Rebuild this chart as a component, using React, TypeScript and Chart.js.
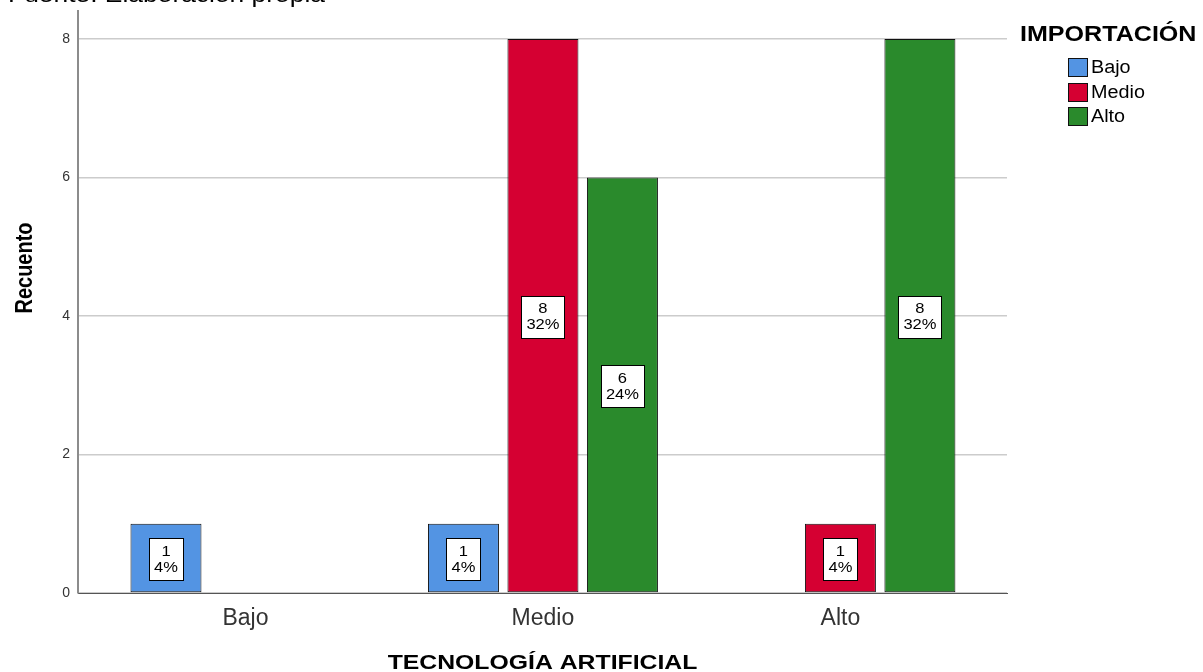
import React, { useEffect, useRef } from 'react';
import { Chart, registerables } from 'chart.js';

Chart.register(...registerables);

// ---------- data ----------
const categories = ['Bajo', 'Medio', 'Alto'];
const seriesNames = ['Bajo', 'Medio', 'Alto'];
const bajoCounts: (number | null)[] = [1, 1, null];
const medioCounts: (number | null)[] = [null, 8, 1];
const altoCounts: (number | null)[] = [null, 6, 8];
const seriesColors = ['#5394E3', '#D50032', '#2A8A2C'];
const yTickValues = [0, 2, 4, 6, 8];
const xTitle = 'TECNOLOGÍA ARTIFICIAL';
const yTitle = 'Recuento';
const legendTitle = 'IMPORTACIÓN';
const sourceNote = 'Fuente: Elaboración propia';

const seriesValues = [bajoCounts, medioCounts, altoCounts];
const totalCount = seriesValues.flat().reduce((a: number, v) => a + (v ?? 0), 0);

const FONT = '"Liberation Sans", Arial, Helvetica, sans-serif';
const S = 1.18; // horizontal stretch of the reference text

function drawStretched(
  ctx: CanvasRenderingContext2D,
  text: string,
  x: number,
  y: number,
  font: string,
  rotate = 0
) {
  ctx.save();
  ctx.translate(x, y);
  ctx.scale(S, 1);
  if (rotate) ctx.rotate(rotate);
  ctx.font = font;
  ctx.textAlign = 'center';
  ctx.textBaseline = 'middle';
  ctx.fillText(text, 0, 0);
  ctx.restore();
}

const barLabelPlugin = {
  id: 'barLabels',
  afterDatasetsDraw(chart: any) {
    const ctx: CanvasRenderingContext2D = chart.ctx;
    chart.data.datasets.forEach((ds: any, di: number) => {
      const meta = chart.getDatasetMeta(di);
      meta.data.forEach((bar: any, i: number) => {
        const v = ds.data[i].y;
        if (v == null) return;
        const lines = [String(v), Math.round((v / totalCount) * 100) + '%'];
        const font = `14px ${FONT}`;
        ctx.save();
        ctx.font = font;
        const w = Math.max(...lines.map((l) => ctx.measureText(l).width)) * S;
        const bw = Math.round(w + 10);
        const bh = 42;
        const cx = bar.x;
        const cy = (bar.y + bar.base) / 2;
        const left = Math.round(cx - bw / 2) + 0.5;
        const top = Math.round(cy - 20) + 0.5;
        ctx.fillStyle = '#ffffff';
        ctx.fillRect(left, top, bw, bh);
        ctx.strokeStyle = '#000000';
        ctx.lineWidth = 1;
        ctx.strokeRect(left, top, bw, bh);
        ctx.fillStyle = '#000000';
        drawStretched(ctx, lines[0], cx, cy - 6, font);
        drawStretched(ctx, lines[1], cx, cy + 10, font);
        ctx.restore();
      });
    });
  },
};

const titlesPlugin = {
  id: 'axisTitles',
  afterDraw(chart: any) {
    const ctx: CanvasRenderingContext2D = chart.ctx;
    const area = chart.chartArea;
    ctx.save();
    ctx.fillStyle = '#000000';
    drawStretched(ctx, xTitle, (area.left + area.right) / 2, 663, `bold 21px ${FONT}`);
    drawStretched(ctx, yTitle, 25, 268, `bold 20px ${FONT}`, -Math.PI / 2);
    ctx.restore();
  },
};

export default function App() {
  const canvasRef = useRef<HTMLCanvasElement | null>(null);

  useEffect(() => {
    if (!canvasRef.current) return;
    const datasets = seriesValues.map((vals, k) => ({
      label: seriesNames[k],
      data: vals.map((v, i) => ({ x: i, y: v })),
      backgroundColor: seriesColors[k],
      borderColor: '#111111',
      borderWidth: 1,
      borderSkipped: false,
      categoryPercentage: 0.8017,
      barPercentage: 0.893,
    }));

    const chart = new Chart(canvasRef.current, {
      type: 'bar',
      data: { datasets } as any,
      plugins: [barLabelPlugin, titlesPlugin],
      options: {
        animation: false,
        responsive: false,
        devicePixelRatio: 1,
        layout: { padding: { top: 11, right: 196, bottom: 0, left: 0 } },
        plugins: {
          legend: { display: false },
          tooltip: { enabled: false },
        },
        scales: {
          x: {
            type: 'linear',
            min: -0.563,
            max: 2.56,
            offset: false,
            afterFit: (scale: any) => {
              scale.height = 79;
              scale.paddingLeft = 0;
              scale.paddingRight = 0;
            },
            afterBuildTicks: (scale: any) => {
              scale.ticks = categories.map((_, i) => ({ value: i }));
            },
            ticks: {
              callback: (v: any) => categories[v] ?? '',
              font: { family: FONT, size: 23 },
              color: '#333333',
              padding: 12,
              maxRotation: 0,
              autoSkip: false,
            },
            grid: { display: false, drawTicks: false },
            border: { display: true, color: '#555555', width: 1 },
          },
          y: {
            type: 'linear',
            min: 0,
            max: 8.404,
            afterFit: (scale: any) => {
              scale.width = 78;
              scale.paddingTop = 0;
              scale.paddingBottom = 0;
            },
            afterBuildTicks: (scale: any) => {
              scale.ticks = yTickValues.map((v) => ({ value: v }));
            },
            ticks: {
              font: { family: FONT, size: 14 },
              color: '#333333',
              padding: 8,
            },
            grid: { color: '#cccccc', lineWidth: 1.5, drawTicks: false },
            border: { display: true, color: '#8c8c8c', width: 2 },
          },
        },
      } as any,
    });
    return () => chart.destroy();
  }, []);

  return (
    <div
      style={{
        position: 'fixed',
        left: 0,
        top: 0,
        width: 1203,
        height: 672,
        background: '#ffffff',
        overflow: 'hidden',
        fontFamily: FONT,
      }}
    >
      <canvas ref={canvasRef} width={1203} height={672} style={{ display: 'block' }} />
      <div
        style={{
          position: 'absolute',
          left: 8,
          top: -16,
          fontSize: 22,
          lineHeight: '22px',
          color: '#000',
          whiteSpace: 'nowrap',
          transform: `scaleX(1.2)`,
          transformOrigin: 'left top',
        }}
      >
        {sourceNote}
      </div>
      <div
        style={{
          position: 'absolute',
          left: 1020,
          top: 23,
          fontSize: 22,
          lineHeight: '22px',
          fontWeight: 'bold',
          color: '#000',
          whiteSpace: 'nowrap',
          transform: 'scaleX(1.14)',
          transformOrigin: 'left top',
        }}
      >
        {legendTitle}
      </div>
      {seriesNames.map((name, k) => (
        <div
          key={name}
          style={{
            position: 'absolute',
            left: 1068,
            top: 58 + k * 24.5,
            height: 19,
            display: 'flex',
            alignItems: 'flex-end',
          }}
        >
          <div
            style={{
              width: 18,
              height: 17,
              background: seriesColors[k],
              border: '1px solid #111111',
            }}
          />
          <span
            style={{
              marginLeft: 3,
              fontSize: 18,
              lineHeight: '19px',
              color: '#000',
              whiteSpace: 'nowrap',
              display: 'inline-block',
              transform: 'scaleX(1.1)',
              transformOrigin: 'left center',
            }}
          >
            {name}
          </span>
        </div>
      ))}
    </div>
  );
}
